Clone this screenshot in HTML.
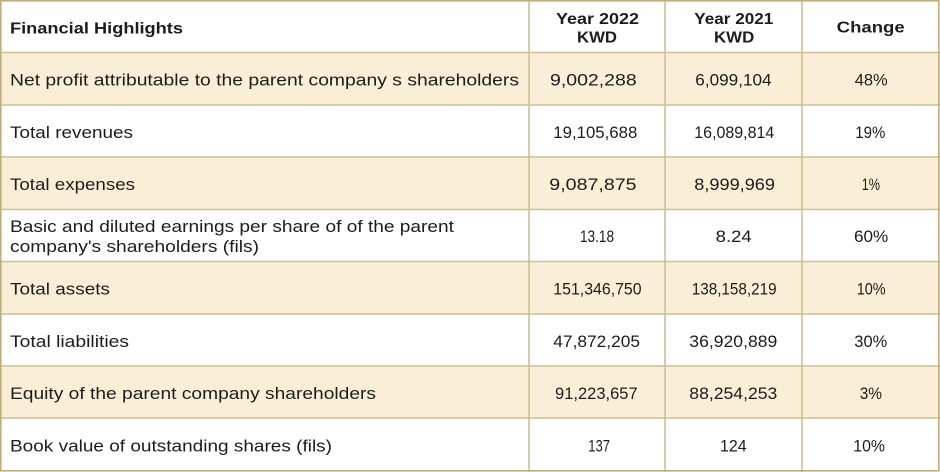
<!DOCTYPE html>
<html>
<head>
<meta charset="utf-8">
<style>
html,body{margin:0;padding:0;background:#fff;}
svg{display:block;}
text{font-family:"Liberation Sans",sans-serif;fill:#1c1c1c;}
.r{font-size:17px;}
.b{font-size:16px;font-weight:bold;}
</style>
</head>
<body>
<svg width="940" height="472" viewBox="0 0 940 472" xmlns="http://www.w3.org/2000/svg">
<rect x="0" y="0" width="940" height="472" fill="#fff"/>
<g fill="#faefd6">
<rect x="0" y="52.5" width="940" height="52.5"/>
<rect x="0" y="157" width="940" height="52.5"/>
<rect x="0" y="261.5" width="940" height="52.5"/>
<rect x="0" y="366" width="940" height="52"/>
</g>
<g stroke="#cdbf96" stroke-width="1.6" fill="none">
<line x1="0" y1="52.5" x2="940" y2="52.5"/>
<line x1="0" y1="105" x2="940" y2="105"/>
<line x1="0" y1="157" x2="940" y2="157"/>
<line x1="0" y1="209.5" x2="940" y2="209.5"/>
<line x1="0" y1="261.5" x2="940" y2="261.5"/>
<line x1="0" y1="314" x2="940" y2="314"/>
<line x1="0" y1="366" x2="940" y2="366"/>
<line x1="0" y1="418" x2="940" y2="418"/>
<line x1="529" y1="0" x2="529" y2="472"/>
<line x1="665" y1="0" x2="665" y2="472"/>
<line x1="802" y1="0" x2="802" y2="472"/>
</g>
<rect x="0.8" y="0.8" width="938" height="470" fill="none" stroke="#bfae80" stroke-width="1.6"/>

<!-- header -->
<text class="b" x="10" y="33.3" textLength="173" lengthAdjust="spacingAndGlyphs">Financial Highlights</text>
<text class="b" x="556" y="24" textLength="83" lengthAdjust="spacingAndGlyphs">Year 2022</text>
<text class="b" x="577" y="42.7" textLength="40" lengthAdjust="spacingAndGlyphs">KWD</text>
<text class="b" x="694.3" y="24" textLength="79" lengthAdjust="spacingAndGlyphs">Year 2021</text>
<text class="b" x="714" y="42.7" textLength="40.3" lengthAdjust="spacingAndGlyphs">KWD</text>
<text class="b" x="836.7" y="32.5" textLength="68" lengthAdjust="spacingAndGlyphs">Change</text>

<!-- labels -->
<text class="r" x="10" y="85.5" textLength="509" lengthAdjust="spacingAndGlyphs">Net profit attributable to the parent company s shareholders</text>
<text class="r" x="10" y="138" textLength="123" lengthAdjust="spacingAndGlyphs">Total revenues</text>
<text class="r" x="10" y="190" textLength="125" lengthAdjust="spacingAndGlyphs">Total expenses</text>
<text class="r" x="10" y="232" textLength="444" lengthAdjust="spacingAndGlyphs">Basic and diluted earnings per share of of the parent</text>
<text class="r" x="10" y="252" textLength="249" lengthAdjust="spacingAndGlyphs">company's shareholders (fils)</text>
<text class="r" x="10" y="294.5" textLength="100" lengthAdjust="spacingAndGlyphs">Total assets</text>
<text class="r" x="10" y="347" textLength="119" lengthAdjust="spacingAndGlyphs">Total liabilities</text>
<text class="r" x="10" y="399" textLength="366" lengthAdjust="spacingAndGlyphs">Equity of the parent company shareholders</text>
<text class="r" x="10" y="451.5" textLength="322" lengthAdjust="spacingAndGlyphs">Book value of outstanding shares (fils)</text>

<!-- row 1 -->
<text class="r" x="550" y="85.5" textLength="86.7" lengthAdjust="spacingAndGlyphs">9,002,288</text>
<text class="r" x="695.3" y="85.5" textLength="76.3" lengthAdjust="spacingAndGlyphs">6,099,104</text>
<text class="r" x="854.7" y="85.5" textLength="33" lengthAdjust="spacingAndGlyphs">48%</text>
<!-- row 2 -->
<text class="r" x="553.3" y="138" textLength="84" lengthAdjust="spacingAndGlyphs">19,105,688</text>
<text class="r" x="694.3" y="138" textLength="80" lengthAdjust="spacingAndGlyphs">16,089,814</text>
<text class="r" x="855.3" y="138" textLength="30" lengthAdjust="spacingAndGlyphs">19%</text>
<!-- row 3 -->
<text class="r" x="549.3" y="190" textLength="87.3" lengthAdjust="spacingAndGlyphs">9,087,875</text>
<text class="r" x="694.3" y="190" textLength="80.7" lengthAdjust="spacingAndGlyphs">8,999,969</text>
<text class="r" x="861.7" y="190" textLength="18.3" lengthAdjust="spacingAndGlyphs">1%</text>
<!-- row 4 -->
<text class="r" x="580" y="242" textLength="34" lengthAdjust="spacingAndGlyphs">13.18</text>
<text class="r" x="715.7" y="242" textLength="36" lengthAdjust="spacingAndGlyphs">8.24</text>
<text class="r" x="854" y="242" textLength="34.3" lengthAdjust="spacingAndGlyphs">60%</text>
<!-- row 5 -->
<text class="r" x="553.3" y="294.5" textLength="88.3" lengthAdjust="spacingAndGlyphs">151,346,750</text>
<text class="r" x="691.7" y="294.5" textLength="85" lengthAdjust="spacingAndGlyphs">138,158,219</text>
<text class="r" x="856.7" y="294.5" textLength="29" lengthAdjust="spacingAndGlyphs">10%</text>
<!-- row 6 -->
<text class="r" x="553.3" y="347" textLength="86.7" lengthAdjust="spacingAndGlyphs">47,872,205</text>
<text class="r" x="689.3" y="347" textLength="88" lengthAdjust="spacingAndGlyphs">36,920,889</text>
<text class="r" x="854.3" y="347" textLength="33" lengthAdjust="spacingAndGlyphs">30%</text>
<!-- row 7 -->
<text class="r" x="555" y="399" textLength="82.7" lengthAdjust="spacingAndGlyphs">91,223,657</text>
<text class="r" x="689.3" y="399" textLength="88" lengthAdjust="spacingAndGlyphs">88,254,253</text>
<text class="r" x="859.7" y="399" textLength="22.3" lengthAdjust="spacingAndGlyphs">3%</text>
<!-- row 8 -->
<text class="r" x="588.3" y="451.5" textLength="21.7" lengthAdjust="spacingAndGlyphs">137</text>
<text class="r" x="720" y="451.5" textLength="26.7" lengthAdjust="spacingAndGlyphs">124</text>
<text class="r" x="853.3" y="451.5" textLength="31.7" lengthAdjust="spacingAndGlyphs">10%</text>
</svg>
</body>
</html>
